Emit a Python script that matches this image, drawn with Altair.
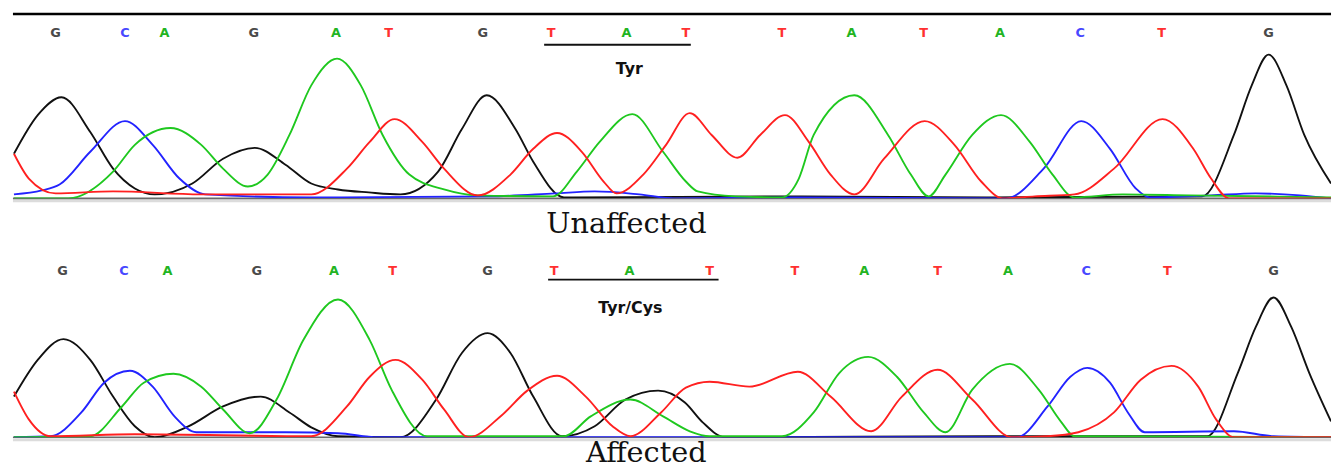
import altair as alt
import pandas as pd

# ---------------- data ----------------
# Top panel (Unaffected): trace intensities per channel
top_G_x = [12, 36, 60, 89, 112, 134, 154, 192, 223, 255, 286, 312, 339, 370, 402, 440, 464, 489, 518, 536, 567, 800, 1000, 1211, 1243, 1261, 1278, 1296, 1314, 1341]
top_G_y = [45, 84, 102, 67, 30, 10, 4, 15, 40, 51, 34, 15, 9, 6, 4, 27, 70, 104, 70, 37, 1, 2, 1, 2, 64, 114, 145, 114, 64, 15]
top_C_x = [12, 40, 58, 89, 124, 152, 179, 205, 312, 491, 558, 598, 643, 679, 800, 1013, 1051, 1089, 1118, 1144, 1158, 1220, 1265, 1310, 1341]
top_C_y = [4, 8, 14, 47, 78, 54, 20, 4, 1, 2, 5, 7, 4, 0, 1, 0, 30, 78, 50, 10, 1, 3, 5, 3, 0]
top_A_x = [12, 67, 112, 134, 170, 201, 223, 248, 268, 290, 312, 338, 362, 384, 411, 446, 480, 556, 580, 603, 636, 667, 690, 702, 740, 787, 804, 819, 860, 894, 917, 935, 952, 979, 1008, 1037, 1060, 1082, 1131, 1198, 1341]
top_A_y = [0, 0, 27, 54, 71, 54, 30, 12, 24, 64, 114, 141, 114, 64, 24, 9, 3, 2, 27, 57, 85, 47, 17, 7, 2, 1, 20, 64, 104, 64, 24, 2, 24, 64, 84, 57, 24, 1, 4, 3, 1]
top_T_x = [12, 27, 54, 112, 201, 312, 348, 371, 396, 424, 446, 480, 513, 536, 560, 585, 607, 620, 647, 670, 694, 716, 742, 765, 790, 814, 836, 860, 890, 931, 961, 988, 1010, 1042, 1082, 1122, 1171, 1202, 1220, 1238, 1341]
top_T_y = [45, 20, 5, 7, 4, 4, 30, 57, 80, 57, 30, 3, 24, 50, 66, 47, 17, 5, 24, 54, 86, 64, 41, 64, 84, 57, 24, 4, 40, 78, 54, 17, 0, 2, 4, 30, 80, 50, 20, 0, 0]

# Bottom panel (Affected)
bot_G_x = [12, 36, 62, 89, 112, 134, 154, 188, 223, 261, 290, 312, 339, 402, 438, 464, 490, 513, 536, 565, 598, 629, 662, 689, 707, 729, 1000, 1216, 1247, 1265, 1283, 1301, 1319, 1341]
bot_G_y = [41, 78, 99, 78, 41, 11, 0, 11, 31, 41, 25, 10, 1, 0, 38, 85, 105, 85, 41, 1, 11, 38, 47, 35, 15, 0, 1, 1, 65, 111, 141, 111, 65, 16]
bot_C_x = [12, 49, 80, 103, 129, 152, 174, 196, 286, 339, 379, 1024, 1055, 1078, 1095, 1118, 1136, 1153, 1243, 1283, 1341]
bot_C_y = [0, 1, 25, 55, 67, 51, 21, 5, 5, 4, 0, 0, 31, 61, 70, 55, 25, 5, 6, 1, 0]
bot_A_x = [12, 89, 121, 143, 173, 201, 223, 250, 277, 304, 339, 371, 393, 429, 567, 594, 634, 667, 694, 714, 787, 819, 845, 874, 903, 930, 952, 979, 1017, 1046, 1069, 1082, 1341]
bot_A_y = [0, 1, 31, 55, 64, 51, 28, 4, 38, 98, 139, 98, 48, 1, 1, 21, 38, 21, 6, 1, 1, 25, 65, 81, 61, 25, 5, 48, 74, 48, 15, 1, 0]
bot_T_x = [12, 27, 49, 134, 312, 348, 371, 397, 424, 446, 471, 504, 530, 560, 589, 616, 634, 665, 690, 714, 754, 803, 836, 877, 908, 944, 979, 1019, 1055, 1086, 1122, 1149, 1180, 1207, 1225, 1243, 1341]
bot_T_y = [46, 18, 1, 3, 1, 31, 61, 78, 58, 28, 0, 22, 47, 62, 41, 11, 1, 25, 50, 56, 51, 66, 41, 6, 41, 68, 38, 0, 1, 5, 25, 58, 72, 51, 18, 0, 0]

# Base calls
calls = list("GCAGATGTATTATACTG")
top_call_x = [54, 124, 164, 254, 337, 390, 485, 554, 630, 690, 787, 857, 930, 1007, 1088, 1170, 1278]
bot_call_x = [61, 123, 167, 257, 335, 394, 490, 557, 633, 714, 800, 870, 944, 1015, 1094, 1176, 1283]

# Codon annotation
top_codon = [547, 695]
bot_codon = [551, 723]
top_aa = ("Tyr", 633)
bot_aa = ("Tyr/Cys", 634)
top_title = ("Unaffected", 630)
bot_title = ("Affected", 650)

BASES = ["G", "C", "A", "T"]
TRACE_COLORS = ["#111111", "#2323ff", "#1fc81f", "#ff2020"]
CALL_COLORS = ["#4a4a4a", "#4848ff", "#22b422", "#ff3030"]

W = 1330
X0, X1 = 11, 1341


def traces_df(d):
    rows = []
    for b in BASES:
        xs, ys = d[b]
        for x, y in zip(xs, ys):
            rows.append({"x": x, "y": y, "base": b})
    return pd.DataFrame(rows)


def panel(d, call_x, codon, aa, title, height, call_y, line_y, aa_y, title_y, top_rule=False):
    xs = alt.X("x:Q", scale=alt.Scale(domain=[X0, X1], nice=False, zero=False), axis=None)
    ys = alt.Y("y:Q", scale=alt.Scale(domain=[0, height], nice=False), axis=None)

    base_line = alt.Chart(pd.DataFrame({"x": [0]})).mark_rule(color="#6a6a6a", strokeWidth=1.6).encode(
        x=alt.value(0), x2=alt.value(W), y=alt.value(height))
    shadow = alt.Chart(pd.DataFrame({"x": [0]})).mark_rule(color="#dcdcdc", strokeWidth=3).encode(
        x=alt.value(0), x2=alt.value(W), y=alt.value(height + 2.5))

    lines = alt.Chart(traces_df(d)).mark_line(interpolate="monotone", strokeWidth=1.9, clip=True).encode(
        x=xs, y=ys,
        color=alt.Color("base:N", scale=alt.Scale(domain=BASES, range=TRACE_COLORS), legend=None))

    cdf = pd.DataFrame({"x": call_x, "call": calls})
    letters = alt.Chart(cdf).mark_text(font="DejaVu Sans", fontWeight="bold", fontSize=13,
                                       baseline="middle").encode(
        x=xs, y=alt.value(call_y), text="call:N",
        color=alt.Color("call:N", scale=alt.Scale(domain=BASES, range=CALL_COLORS), legend=None))

    ul = alt.Chart(pd.DataFrame({"x": [codon[0]], "x2": [codon[1]]})).mark_rule(
        color="#111111", strokeWidth=2).encode(x=xs, x2="x2:Q", y=alt.value(line_y))

    aa_t = alt.Chart(pd.DataFrame({"x": [aa[1]], "t": [aa[0]]})).mark_text(
        font="DejaVu Sans", fontWeight="bold", fontSize=16, baseline="middle", color="#111111").encode(
        x=xs, y=alt.value(aa_y), text="t:N")

    ttl = alt.Chart(pd.DataFrame({"x": [title[1]], "t": [title[0]]})).mark_text(
        font="DejaVu Serif", fontSize=29, baseline="alphabetic", color="#111111").encode(
        x=xs, y=alt.value(title_y), text="t:N")

    layers = [shadow, base_line, lines, letters, ul, aa_t, ttl]
    if top_rule:
        layers.append(alt.Chart(pd.DataFrame({"x": [0]})).mark_rule(color="#000000", strokeWidth=2.6).encode(
            x=alt.value(0), x2=alt.value(W), y=alt.value(1)))
    return alt.layer(*layers).resolve_scale(color="independent").properties(width=W, height=height)


top = panel({"G": (top_G_x, top_G_y), "C": (top_C_x, top_C_y), "A": (top_A_x, top_A_y), "T": (top_T_x, top_T_y)},
            top_call_x, top_codon, top_aa, top_title, 187, 20, 32, 57, 222, top_rule=True)
bottom = panel({"G": (bot_G_x, bot_G_y), "C": (bot_C_x, bot_C_y), "A": (bot_A_x, bot_A_y), "T": (bot_T_x, bot_T_y)},
               bot_call_x, bot_codon, bot_aa, bot_title, 188, 20, 29, 58, 213)

chart = alt.vconcat(top, bottom, spacing=53, bounds="flush").properties(
    padding={"left": 3, "top": 2, "right": 0, "bottom": 0},
    background="white",
).configure_view(stroke=None)

chart.save("out.html", embed_options={"renderer": "svg", "actions": False})
